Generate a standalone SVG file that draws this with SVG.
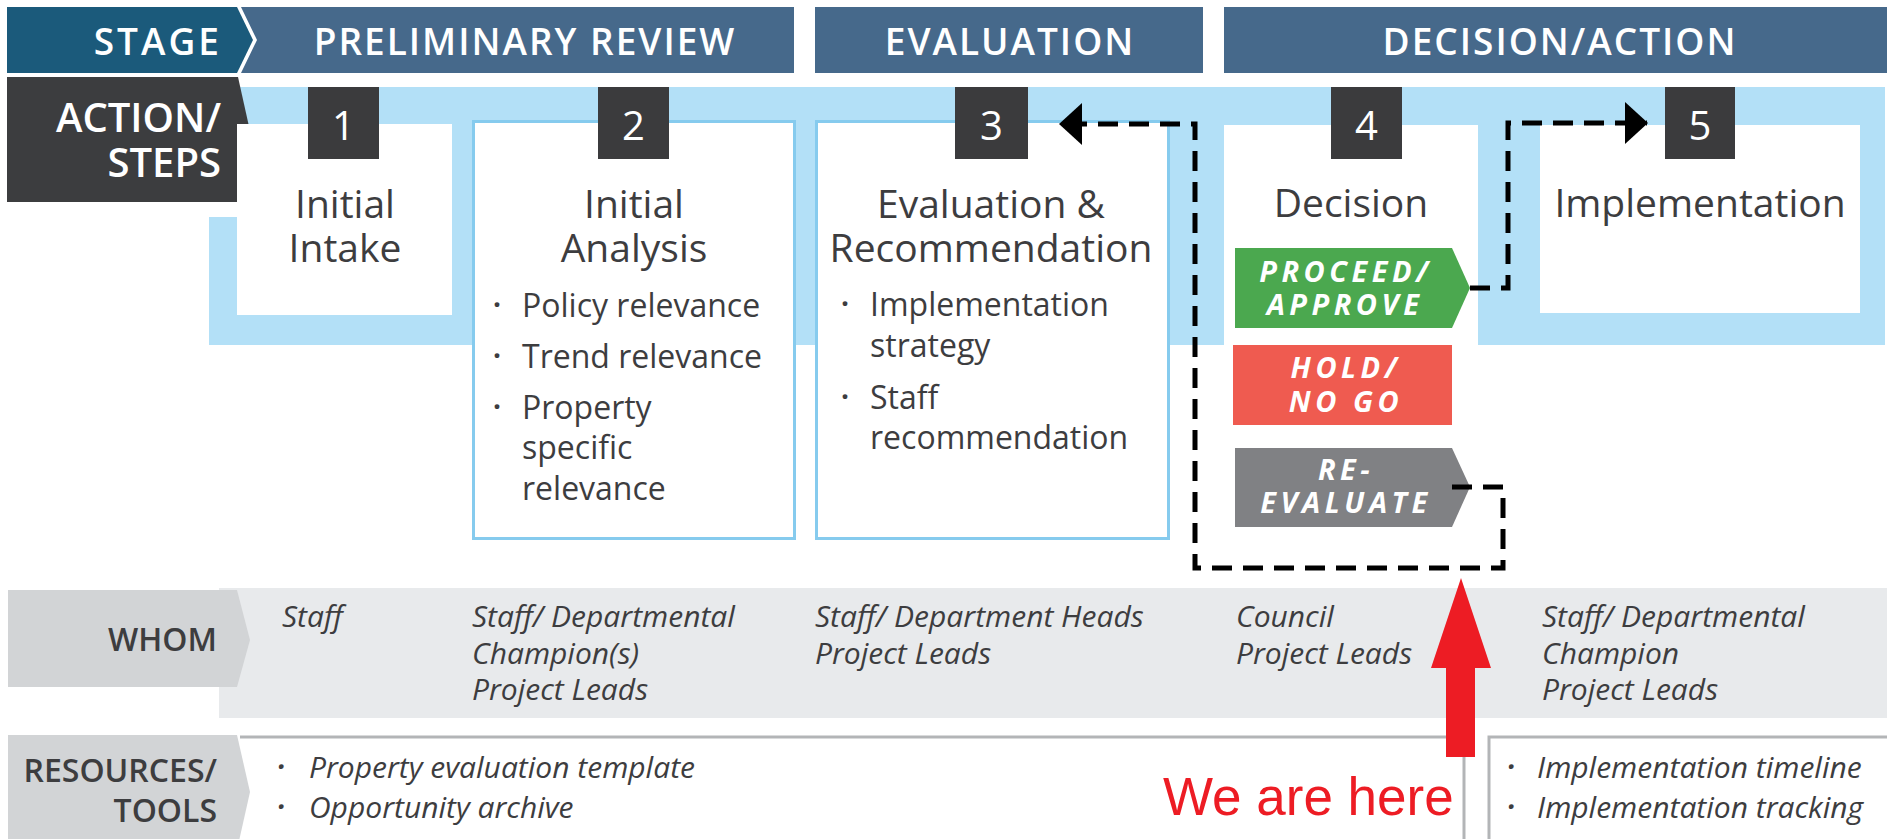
<svg xmlns="http://www.w3.org/2000/svg" width="1887" height="839" viewBox="0 0 1887 839">
  <defs>
    <style>
      .hdr { font-family: "Open Sans", "Noto Sans", sans-serif; font-size: 37px; font-weight: 600; fill: #ffffff; letter-spacing: 2px; text-anchor: middle; }
      .lbl { font-family: "Open Sans", "Noto Sans", sans-serif; font-weight: 600; fill: #ffffff; text-anchor: end; }
      .num { font-family: "Open Sans", "Noto Sans", sans-serif; font-size: 40px; font-weight: 500; fill: #ffffff; text-anchor: middle; }
      .title { font-family: "Open Sans", "Noto Sans", sans-serif; font-size: 39px; font-weight: 400; fill: #3d3d3f; text-anchor: middle; }
      .body { font-family: "Open Sans", "Noto Sans", sans-serif; font-size: 32px; font-weight: 400; fill: #3d3d3f; }
      .dot { font-size: 28px; font-weight: 700; }
      .btn { font-family: "Open Sans", "Noto Sans", sans-serif; font-size: 29px; font-weight: 700; font-style: italic; fill: #ffffff; letter-spacing: 4.5px; text-anchor: middle; }
      .rowlbl { font-family: "Open Sans", "Noto Sans", sans-serif; font-size: 32px; font-weight: 600; fill: #3d3d3f; text-anchor: end; }
      .it { font-family: "Open Sans", "Noto Sans", sans-serif; font-size: 30px; font-style: italic; font-weight: 400; fill: #3d3d3f; }
      .square { fill: #3b3b3d; }
      .bordered { fill: #ffffff; stroke: #86cbee; stroke-width: 3; }
      .dash { fill: none; stroke: #000000; stroke-width: 5; stroke-dasharray: 20 11; }
      .sep { stroke: #b3b5b7; fill: none; }
    </style>
    <marker id="ah" markerUnits="userSpaceOnUse" markerWidth="24" markerHeight="42" refX="22" refY="21" orient="auto">
      <path d="M0,0 L23,21 L0,42 Z" fill="#000000"/>
    </marker>
  </defs>

  <rect x="0" y="0" width="1887" height="839" fill="#ffffff"/>

  <!-- Stage row -->
  <g id="stage-label">
    <polygon points="7,7 237,7 253,40 237,73 7,73" fill="#1b5a7b"/>
    <text class="lbl" x="222" y="55" font-size="37" letter-spacing="3">STAGE</text>
  </g>
  <g id="stage-preliminary">
    <polygon points="241,7 794,7 794,73 241,73 257,40" fill="#46698b"/>
    <text class="hdr" x="525" y="55">PRELIMINARY REVIEW</text>
  </g>
  <g id="stage-evaluation">
    <rect x="815" y="7" width="388" height="66" fill="#46698b"/>
    <text class="hdr" x="1010" y="55">EVALUATION</text>
  </g>
  <g id="stage-decision">
    <rect x="1224" y="7" width="663" height="66" fill="#46698b"/>
    <text class="hdr" x="1560" y="55">DECISION/ACTION</text>
  </g>

  <!-- Light blue band -->
  <g id="band">
    <rect x="209" y="87" width="1676" height="258" fill="#b3e0f7"/>
    <rect x="200" y="80" width="38" height="137" fill="#ffffff"/>
  </g>

  <g id="action-label">
    <polygon points="7,77 238,77 252,140 238,202 7,202" fill="#3c3d3f"/>
    <text class="lbl" font-size="40"><tspan x="221" y="132">ACTION/</tspan><tspan x="221" y="177">STEPS</tspan></text>
  </g>

  <g id="step1">
    <rect x="237" y="124" width="215" height="191" fill="#ffffff"/>
    <rect class="square" x="308" y="87" width="71" height="72"/>
    <text class="num" x="343.5" y="140">1</text>
    <text class="title"><tspan x="345" y="218">Initial</tspan><tspan x="345" y="262">Intake</tspan></text>
  </g>

  <g id="step2">
    <rect class="bordered" x="473.5" y="121.5" width="321" height="417"/>
    <rect class="square" x="598" y="87" width="71" height="72"/>
    <text class="num" x="633.5" y="140">2</text>
    <text class="title"><tspan x="634" y="218">Initial</tspan><tspan x="634" y="262">Analysis</tspan></text>
    <text class="body"><tspan class="dot" x="493" y="315">·</tspan><tspan x="522" y="317">Policy relevance</tspan></text>
    <text class="body"><tspan class="dot" x="493" y="366">·</tspan><tspan x="522" y="368">Trend relevance</tspan></text>
    <text class="body"><tspan class="dot" x="493" y="417">·</tspan><tspan x="522" y="419">Property</tspan><tspan x="522" y="459">specific</tspan><tspan x="522" y="500">relevance</tspan></text>
  </g>

  <g id="step3">
    <rect class="bordered" x="816.5" y="121.5" width="352" height="417"/>
    <rect class="square" x="955" y="87" width="73" height="72"/>
    <text class="num" x="991.5" y="140">3</text>
    <text class="title"><tspan x="991" y="218">Evaluation &amp;</tspan><tspan x="991" y="262">Recommendation</tspan></text>
    <text class="body"><tspan class="dot" x="841" y="314">·</tspan><tspan x="870" y="316">Implementation</tspan><tspan x="870" y="357">strategy</tspan></text>
    <text class="body"><tspan class="dot" x="841" y="407">·</tspan><tspan x="870" y="409">Staff</tspan><tspan x="870" y="449">recommendation</tspan></text>
  </g>

  <g id="step4">
    <rect x="1224" y="125" width="254" height="230" fill="#ffffff"/>
    <rect class="square" x="1331" y="87" width="71" height="72"/>
    <text class="num" x="1366.5" y="140">4</text>
    <text class="title" x="1351" y="217">Decision</text>
  </g>

  <g id="step5">
    <rect x="1540" y="125" width="320" height="188" fill="#ffffff"/>
    <rect class="square" x="1665" y="87" width="70" height="72"/>
    <text class="num" x="1700" y="140">5</text>
    <text class="title" x="1700" y="217">Implementation</text>
  </g>

  <g id="proceed">
    <polygon points="1235,248 1452,248 1470,288 1452,328 1235,328" fill="#4ba84f"/>
    <text class="btn"><tspan x="1346" y="282">PROCEED/</tspan><tspan x="1345" y="315">APPROVE</tspan></text>
  </g>
  <g id="hold">
    <rect x="1233" y="345" width="219" height="80" fill="#ef5b50"/>
    <text class="btn"><tspan x="1346" y="378">HOLD/</tspan><tspan x="1346" y="412">NO GO</tspan></text>
  </g>
  <g id="reevaluate">
    <polygon points="1235,448 1452,448 1470,487 1452,527 1235,527" fill="#808184"/>
    <text class="btn"><tspan x="1346" y="480">RE-</tspan><tspan x="1346" y="513">EVALUATE</tspan></text>
  </g>

  <!-- Whom row -->
  <g id="whom-row">
    <rect x="219" y="588" width="1668" height="130" fill="#e8eaec"/>
    <polygon points="8,590 237,590 250,640 237,687 8,687" fill="#d2d4d6"/>
    <text class="rowlbl" x="217" y="651">WHOM</text>
    <text class="it" x="282" y="627">Staff</text>
    <text class="it"><tspan x="472" y="627">Staff/ Departmental</tspan><tspan x="472" y="664">Champion(s)</tspan><tspan x="472" y="700">Project Leads</tspan></text>
    <text class="it"><tspan x="815" y="627">Staff/ Department Heads</tspan><tspan x="815" y="664">Project Leads</tspan></text>
    <text class="it"><tspan x="1236" y="627">Council</tspan><tspan x="1236" y="664">Project Leads</tspan></text>
    <text class="it"><tspan x="1542" y="627">Staff/ Departmental</tspan><tspan x="1542" y="664">Champion</tspan><tspan x="1542" y="700">Project Leads</tspan></text>
  </g>

  <!-- Resources row -->
  <g id="resources-row">
    <polygon points="8,735 237,735 250,792 237,850 8,850" fill="#d2d4d6"/>
    <text class="rowlbl"><tspan x="217" y="782">RESOURCES/</tspan><tspan x="217" y="822">TOOLS</tspan></text>
    <path class="sep" d="M240,737 H1464 V839" stroke-width="3"/>
    <path class="sep" d="M1887,737 H1489 V839" stroke-width="3"/>
    <text class="it"><tspan class="dot" x="277" y="777">·</tspan><tspan x="309" y="778">Property evaluation template</tspan></text>
    <text class="it"><tspan class="dot" x="277" y="817">·</tspan><tspan x="309" y="818">Opportunity archive</tspan></text>
    <text class="it"><tspan class="dot" x="1507" y="777">·</tspan><tspan x="1537" y="778">Implementation timeline</tspan></text>
    <text class="it"><tspan class="dot" x="1507" y="817">·</tspan><tspan x="1537" y="818">Implementation tracking</tspan></text>
  </g>

  <!-- Connectors -->
  <g id="connectors">
    <path class="dash" d="M1452,487 H1503 V568 H1195 V124 H1060" marker-end="url(#ah)"/>
    <path class="dash" d="M1470,288 H1508 V123 H1647" marker-end="url(#ah)"/>
  </g>

  <!-- We are here marker -->
  <g id="we-are-here">
    <polygon points="1461,578 1491,668 1475,668 1475,757 1446,757 1446,668 1431,668" fill="#ed1c24"/>
    <text x="1163" y="815" font-family="Liberation Sans, Arial, sans-serif" font-size="53" fill="#ed1c24">We are here</text>
  </g>
</svg>
